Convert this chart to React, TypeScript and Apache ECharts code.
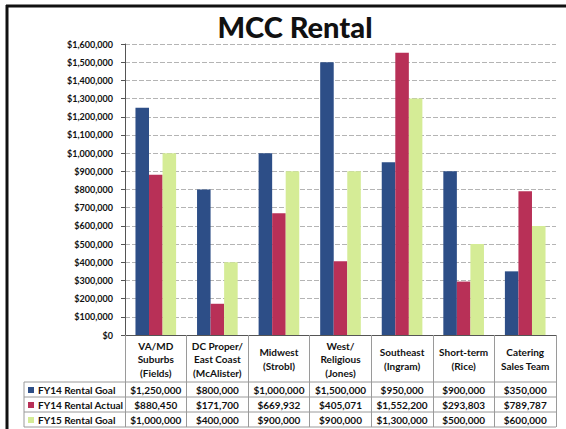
import React, { useEffect, useRef } from "react";
import * as echarts from "echarts";

const categories = [
  "VA/MD\nSuburbs\n(Fields)",
  "DC Proper/\nEast Coast\n(McAlister)",
  "Midwest\n(Strobl)",
  "West/\nReligious\n(Jones)",
  "Southeast\n(Ingram)",
  "Short-term\n(Rice)",
  "Catering\nSales Team",
];
const seriesNames = ["FY14 Rental Goal", "FY14 Rental Actual", "FY15 Rental Goal"];
const fy14Goal = [1250000, 800000, 1000000, 1500000, 950000, 900000, 350000];
const fy14Actual = [880450, 171700, 669932, 405071, 1552200, 293803, 789787];
const fy15Goal = [1000000, 400000, 900000, 900000, 1300000, 500000, 600000];
const colors = ["#2D4E87", "#B83057", "#D5EC96"];
const yMax = 1600000;
const yInterval = 100000;

const money = (v: number) => "$" + Math.round(v).toLocaleString("en-US");

const FONT = "Lato";
const GRID_LEFT = 125;
const GRID_RIGHT = 10;
const GRID_TOP = 44;
const GRID_BOTTOM = 94;
const W = 566;
const H = 429;
const AXIS_Y = H - GRID_BOTTOM; // 335
const ROW_LINES = [382, 397, 412, 427];
const TABLE_COLOR = "#9a9a9a";

export default function App() {
  const ref = useRef<HTMLDivElement>(null);
  useEffect(() => {
    if (!ref.current) return;
    const chart = echarts.init(ref.current, null, { renderer: "svg" });
    const allSeries = [fy14Goal, fy14Actual, fy15Goal];
    const rowAxes = allSeries.map((vals, i) => ({
      type: "category" as const,
      data: categories,
      position: "bottom" as const,
      gridIndex: 0,
      axisLine: { show: false },
      axisTick: { show: false },
      splitLine: { show: false },
      axisLabel: {
        interval: 0,
        margin: (ROW_LINES[i] + ROW_LINES[i + 1]) / 2 - AXIS_Y,
        verticalAlign: "middle" as const,
        fontFamily: FONT,
        fontWeight: "bold" as const,
        fontSize: 10,
        color: "#111",
        formatter: (_v: string, idx: number) => money(vals[idx]),
      },
    }));
    chart.setOption({
      animation: false,
      backgroundColor: "#fff",
      title: {
        text: "MCC Rental",
        left: 290,
        textAlign: "center",
        top: 7,
        textStyle: { fontFamily: FONT, fontWeight: 900, fontSize: 29, color: "#111" },
      },
      grid: { left: GRID_LEFT, right: GRID_RIGHT, top: GRID_TOP, bottom: GRID_BOTTOM, containLabel: false },
      legend: {
        orient: "vertical",
        left: 28,
        top: ROW_LINES[0] + 1,
        padding: 0,
        itemGap: 1,
        itemWidth: 6,
        itemHeight: 6,
        icon: "rect",
        data: seriesNames,
        textStyle: { fontFamily: FONT, fontWeight: "bold", fontSize: 10, color: "#111", lineHeight: 14, padding: [0, 0, 0, -1] },
      },
      xAxis: [
        {
          type: "category",
          data: categories,
          axisLine: { show: true, lineStyle: { color: "#555", width: 1 } },
          axisTick: { show: true, length: ROW_LINES[3] - AXIS_Y, lineStyle: { color: TABLE_COLOR } },
          axisLabel: {
            interval: 0,
            margin: 24,
            verticalAlign: "middle",
            lineHeight: 13.5,
            fontFamily: FONT,
            fontWeight: "bold",
            fontSize: 10,
            color: "#111",
          },
        },
        ...rowAxes,
      ],
      yAxis: {
        type: "value",
        min: 0,
        max: yMax,
        interval: yInterval,
        axisLine: { show: true, lineStyle: { color: "#555" } },
        axisTick: { show: true, length: 4, lineStyle: { color: "#555" } },
        splitLine: { show: true, lineStyle: { color: "#b4b4b4", type: [5, 2], width: 1 } },
        axisLabel: {
          margin: 12,
          fontFamily: FONT,
          fontWeight: "bold",
          fontSize: 9,
          color: "#111",
          formatter: (v: number) => money(v),
        },
      },
      series: allSeries.map((vals, i) => ({
        name: seriesNames[i],
        type: "bar",
        data: vals,
        barGap: "0%",
        barCategoryGap: "34%",
        itemStyle: { color: colors[i] },
      })),
      graphic: [
        ...ROW_LINES.map((y) => ({
          type: "line",
          shape: { x1: 24, y1: y, x2: W - GRID_RIGHT, y2: y },
          style: { stroke: TABLE_COLOR, lineWidth: 1 },
          silent: true,
        })),
        {
          type: "line",
          shape: { x1: 24, y1: ROW_LINES[0], x2: 24, y2: ROW_LINES[3] },
          style: { stroke: TABLE_COLOR, lineWidth: 1 },
          silent: true,
        },
        {
          type: "line",
          shape: { x1: 6, y1: 6, x2: W, y2: 6 },
          style: { stroke: "#111", lineWidth: 3 },
          silent: true,
        },
        {
          type: "line",
          shape: { x1: 7, y1: 5, x2: 7, y2: H },
          style: { stroke: "#111", lineWidth: 3 },
          silent: true,
        },
      ],
    });
    return () => chart.dispose();
  }, []);
  return <div ref={ref} style={{ width: W, height: H, position: "absolute", left: 0, top: 0 }} />;
}
